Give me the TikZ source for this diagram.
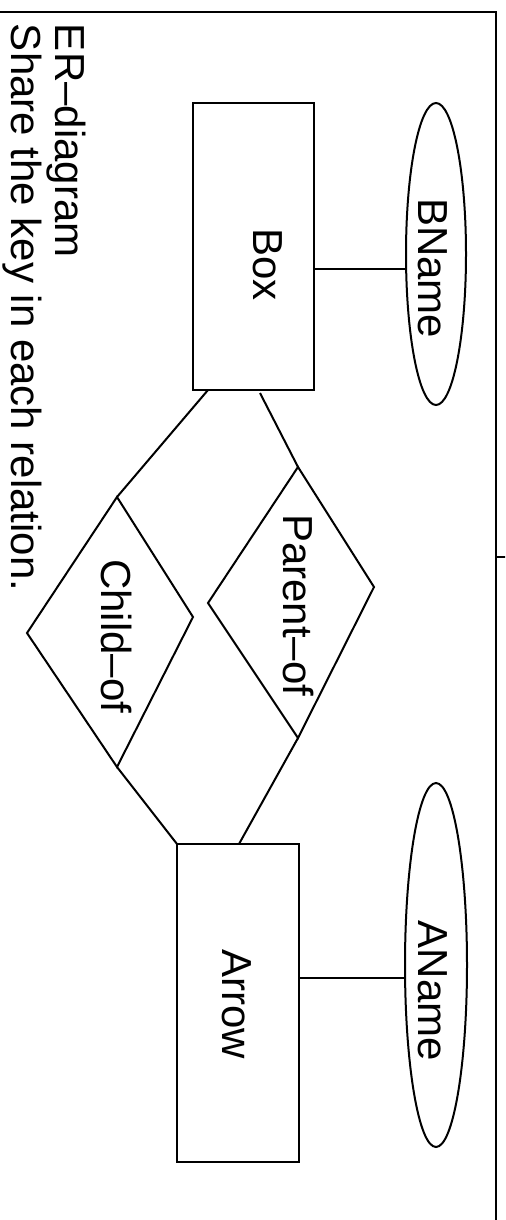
\documentclass[tikz,border=0pt]{standalone}
\usepackage{fontspec}
\setmainfont{Liberation Sans}
\usetikzlibrary{shapes.geometric}
\begin{document}
\begin{tikzpicture}[x=0.5pt,y=-0.5pt,line width=1pt,
  lbl/.style={rotate=-90,inner sep=0pt,font=\fontsize{21}{25}\selectfont},
  entity/.style={draw,rectangle,inner sep=0pt},
  attr/.style={draw,ellipse,inner sep=0pt}]
\useasboundingbox (0,0) rectangle (505,1220);
\clip (0,0) rectangle (505,1220);
% frame
\coordinate (fa) at (-5,12);
\coordinate (fb) at (496,12);
\coordinate (fc) at (496,1230);
\coordinate (ta) at (496,557);
\coordinate (tb) at (510,557);
\draw (fa) -- (fb) -- (fc);
\draw (ta) -- (tb);
% entities
\node[entity,minimum width=60.5pt,minimum height=143.5pt] (box) at (253.5,246.5) {};
\node[entity,minimum width=61pt,minimum height=159pt] (arrow) at (238,1003) {};
% attributes
\node[attr,minimum width=30pt,minimum height=151pt] (bname) at (436,254) {};
\node[attr,minimum width=31pt,minimum height=182pt] (aname) at (436,965) {};
% relationships (diamonds)
\coordinate (ptop) at (298,467);
\coordinate (pright) at (374,587);
\coordinate (pbot) at (298,738);
\coordinate (pleft) at (208,603);
\draw (ptop) -- (pright) -- (pbot) -- (pleft) -- cycle;
\coordinate (ctop) at (117,497);
\coordinate (cright) at (193,617);
\coordinate (cbot) at (117,767);
\coordinate (cleft) at (27,633);
\draw (ctop) -- (cright) -- (cbot) -- (cleft) -- cycle;
% connector points
\coordinate (yb) at (0,269);
\coordinate (ya) at (0,978);
\coordinate (bx1) at (208,390);
\coordinate (bx2) at (260,393);
\coordinate (ar1) at (177,844);
\coordinate (ar2) at (239,844);
\draw (box.east |- yb) -- (bname.west |- yb);
\draw (arrow.east |- ya) -- (aname.west |- ya);
\draw (bx1) -- (ctop);
\draw (bx2) -- (ptop);
\draw (cbot) -- (ar1);
\draw (pbot) -- (ar2);
% labels
\node[lbl,anchor=base west] (tbox) at (253,227) {Box};
\node[lbl,anchor=base east] (tarrow) at (222,1060) {Arrow};
\node[lbl,anchor=base west] (tbname) at (418,197) {BName};
\node[lbl,anchor=base east] (taname) at (418,1062) {AName};
\node[lbl,anchor=base west] (tparent) at (283,513) {Parent–of};
\node[lbl,anchor=base west] (tchild) at (101,558) {Child–of};
\node[lbl,anchor=base west] (ttitle) at (55,23) {ER–diagram};
\node[lbl,anchor=base west] (tshare) at (11,23) {Share the key in each relation.};
\end{tikzpicture}
\end{document}
